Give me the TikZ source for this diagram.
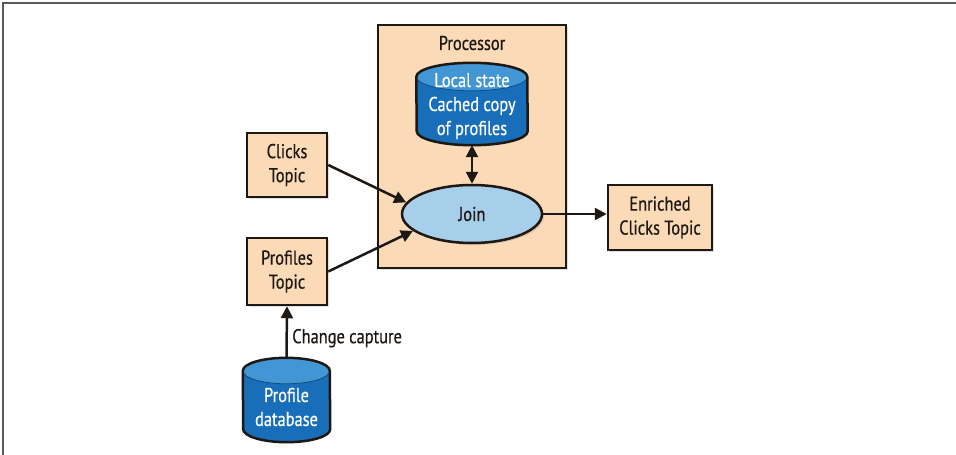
\documentclass[tikz,border=0pt]{standalone}
\usepackage{fontspec}
\setmainfont{PT Sans}[FakeStretch=0.82, FakeBold=0.5]
\usetikzlibrary{shapes.geometric,arrows.meta,shadows}
\definecolor{peach}{RGB}{251,218,183}
\definecolor{lblue}{RGB}{168,207,234}
\definecolor{cylbody}{RGB}{24,110,184}
\definecolor{cylend}{RGB}{66,150,212}
\definecolor{ink}{RGB}{30,24,20}
\definecolor{framegray}{RGB}{90,90,90}
% manual cylinder drawn around a named rectangular node: #1 name, #2 half width, #3 end radius
\newcommand{\mycyl}[3]{%
  \fill[cylbody] ([yshift=-#3]#1.north west) -- ([yshift=#3]#1.south west)
     arc[start angle=180, end angle=360, x radius=#2, y radius=#3]
     -- ([yshift=-#3]#1.north east) -- cycle;
  \fill[cylend] ([yshift=-#3]#1.north) ellipse[x radius=#2, y radius=#3];
  \draw[cylbody!70!black, line width=0.8pt] ([yshift=-#3]#1.north west)
     arc[start angle=180, end angle=360, x radius=#2, y radius=#3];
  \draw[draw=ink, line width=2.5pt] ([yshift=-#3]#1.north west)
     arc[start angle=180, end angle=0, x radius=#2, y radius=#3]
     -- ([yshift=#3]#1.south east)
     arc[start angle=0, end angle=-180, x radius=#2, y radius=#3] -- cycle;
}
\begin{document}
\begin{tikzpicture}[x=1pt,y=-1pt,
  every node/.style={font=\fontsize{20}{24}\selectfont, text=ink, align=center},
  boxstyle/.style={draw=ink, line width=2.5pt, fill=peach, inner sep=0pt,
    drop shadow={shadow xshift=2pt, shadow yshift=-2pt, opacity=0.25}},
  dbstyle/.style={rectangle, draw=none, inner sep=0pt, text=white},
  joinstyle/.style={ellipse, draw=ink, line width=2.5pt, fill=lblue, inner sep=0pt,
    drop shadow={shadow xshift=2pt, shadow yshift=-2pt, opacity=0.25}},
  conn/.style={draw=ink, line width=2.5pt, -{Triangle[length=12pt,width=12pt]}},
  dconn/.style={draw=ink, line width=2.5pt, {Triangle[length=12pt,width=12pt]}-{Triangle[length=12pt,width=12pt]}}
]
\useasboundingbox (0,0) rectangle (956,455);
% frame
\coordinate (fa) at (3,455);
\coordinate (fb) at (3,3);
\coordinate (fc) at (956,3);
\draw[framegray, line width=1.5pt] (fa) -- (fb) -- (fc);

% processor
\node[boxstyle, minimum width=188pt, minimum height=243pt] (proc) at (472,146.5) {};
\node (proclabel) at (472,43) {Processor};
\node[dbstyle, minimum width=111pt, minimum height=82pt] (state) at (472,104) {};
\mycyl{state}{55.5pt}{14pt}
\node[text=white] (statetext) at (472,106) {Local state\\Cached copy\\of profiles};
\node[joinstyle, minimum width=140pt, minimum height=58pt] (join) at (472,214) {Join};

% topics
\node[boxstyle, minimum width=80pt, minimum height=64pt] (clicks) at (287,165) {Clicks\\Topic};
\node[boxstyle, minimum width=80pt, minimum height=67pt] (profiles) at (287,271.5) {Profiles\\Topic};
\node[boxstyle, minimum width=104pt, minimum height=65pt] (enriched) at (660,217.5) {Enriched\\Clicks Topic};

% profile database
\node[dbstyle, minimum width=87pt, minimum height=84pt] (db) at (286.5,400) {};
\mycyl{db}{43.5pt}{13pt}
\node[text=white] (dbtext) at (286.5,407) {Profile\\database};

% connectors
\draw[conn] (clicks.east) -- (join.170);
\draw[conn] (profiles.east) -- (join.196);
\draw[dconn] (state.south) -- (join.north);
\draw[conn] (join.east) -- (join.east -| enriched.west);
\draw[conn] (db.north) -- node[pos=0.38, anchor=west, xshift=1pt] (cc) {Change capture} (profiles.south);
\end{tikzpicture}
\end{document}
